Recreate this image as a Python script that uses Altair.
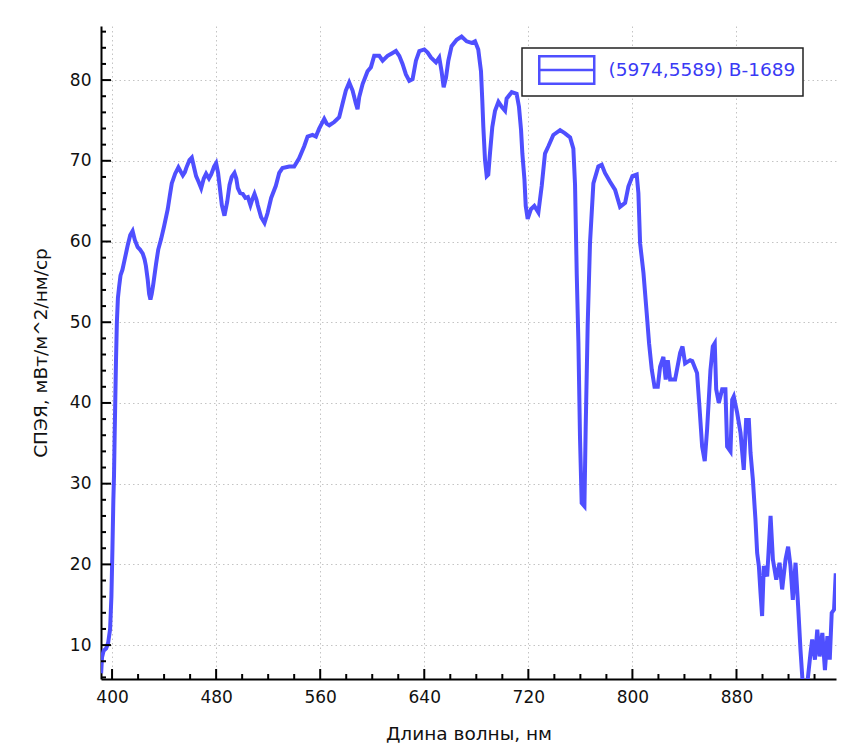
import altair as alt
import pandas as pd

# ---- data ----
wavelength = [391.6, 392.3, 393.5, 395.5, 397, 398.5, 399.5, 400.3, 401, 401.5, 402, 402.5, 403, 403.7, 404.5,
              405.5, 406.5, 408, 410, 412, 414, 415.8, 417.5, 419.7, 421.5, 423.6, 425, 426, 427.4, 428.5,
              429.5, 430.5, 431.5, 433.8, 435.5, 437.7, 440, 442.8, 444.5, 445.9, 448.5, 451, 453, 454.4,
              456, 457, 459.5, 461.3, 463, 464.6, 466.5, 468.5, 470.5, 472.3, 474.5, 476.2, 478.5, 480,
              481.5, 482.6, 484.4, 486.4, 488.5, 490.3, 492, 494.1, 495.5, 496.7, 498.5, 500.5, 502.5,
              504.4, 506.4, 508, 509.5, 511, 512, 514.6, 517.2, 519.5, 522.3, 525.9, 528.5, 531, 536.2,
              540, 543.8, 547.7, 550.3, 554.1, 556.7, 559.2, 563.1, 565, 567, 570.8, 574.6, 577.2, 579.7,
              582.3, 584.9, 587.4, 588.7, 590, 592.6, 596.4, 599, 601.5, 605.4, 608, 611.8, 615, 618.2,
              620.8, 623.3, 625.9, 628.5, 631, 633.6, 636.2, 640, 642.6, 645.1, 649, 651.5, 653.3, 654.9,
              656.7, 658.5, 661, 664.9, 668.7, 672.6, 676.4, 679, 681.5, 683.6, 684.6, 685.4, 686.7, 688,
              689.2, 690.5, 692.3, 694.4, 697, 699.5, 702.1, 703.3, 707.2, 711, 712.8, 714.4, 715.4, 717,
              718, 719.5, 722, 724.6, 727.7, 730.3, 732.8, 735.4, 739.2, 744.4, 748.2, 752.1, 754.6, 755.9,
              757.2, 758.5, 759.7, 761, 763.1, 764.1, 765.6, 767.4, 770, 773.8, 776.4, 778.9, 782.8, 786.7,
              790.5, 794.4, 796.9, 800, 803.3, 804.6, 805.9, 808.5, 811, 812.8, 814.9, 817, 819.5, 821.3,
              823.8, 825.6, 827.2, 829, 832.8, 836.7, 838.5, 840.5, 844.4, 846, 849.7, 851.5, 853.6, 855.6,
              857.4, 860, 861.8, 863.3, 864.4, 866.4, 869, 871.5, 872.8, 875.4, 876.7, 877.9, 880.5, 883.1,
              885.6, 887.4, 889.5, 890.8, 892.6, 894.6, 895.9, 897.2, 898.5, 899.7, 901, 903.6, 906.2, 908,
              910.6, 913.1, 915.1, 917.7, 919.7, 921.5, 923.3, 925.4, 927.4, 929.2, 931, 934.4, 936.9,
              938.2, 940.3, 942.1, 943.9, 946, 948, 949.9, 951.7, 953.2, 955, 956.3]
radiance = [6.5, 8.5, 9.3, 9.6, 10.3, 12, 16, 22, 28, 31, 36, 40.5, 45, 50, 53,
            54.5, 55.8, 56.5, 58, 59.5, 60.8, 61.3, 60.2, 59.3, 59, 58.5, 57.8, 57, 55.3, 53.5,
            52.8, 53.5, 54.5, 57.2, 59, 60.3, 61.9, 64, 65.8, 67.2, 68.4, 69.2, 68.6, 68.2,
            68.6, 69.1, 70.1, 70.4, 69.2, 68.1, 67.4, 66.6, 67.8, 68.4, 67.8, 68.3, 69.3, 69.7,
            68.5, 67, 64.5, 63.2, 64.9, 67, 68, 68.5, 67.8, 66.6, 66, 65.9, 65.4,
            65.5, 64.5, 65.3, 65.9, 65.2, 64.5, 63, 62.3, 63.5, 65.4, 66.9, 68.5, 69.1, 69.3,
            69.3, 70.3, 71.8, 73, 73.2, 73, 74, 75.2, 74.6, 74.4, 74.8, 75.4, 77.1, 78.7,
            79.7, 78.7, 77.1, 76.4, 77.9, 79.5, 81.1, 81.6, 83, 83, 82.4, 83, 83.3, 83.6,
            83, 82, 80.7, 79.9, 80.1, 82.4, 83.6, 83.8, 83.4, 82.8, 82.2, 82.8, 81.1, 79.1,
            80.3, 82.4, 84.2, 85, 85.4, 84.8, 84.6, 84.8, 83.8, 81.1, 77.5, 74.2, 70.1, 68.1,
            68.3, 70.9, 74.2, 76.2, 77.3, 76.7, 76.2, 77.7, 78.5, 78.3, 76.7, 73.8, 70.9, 67.7,
            64.4, 62.8, 64, 64.4, 63.6, 66.9, 70.9, 71.8, 73.2, 73.8, 73.4, 72.9, 71.5, 67,
            56, 47.4, 35.8, 27.6, 27.2, 37.1, 49.5, 59.8, 67.2, 69.3, 69.5, 68.5, 67.4, 66.4,
            64.3, 64.8, 66.8, 68.1, 68.3, 66, 59.8, 56.1, 51.1, 47.4, 44.1, 42, 42, 44.5,
            45.7, 42.9, 45.3, 42.9, 42.9, 46.2, 47, 44.9, 45.3, 45.2, 43.7, 39.6, 34.6, 32.8,
            36.7, 44.1, 47, 47.4, 41.7, 40, 41.7, 41.7, 34.6, 34, 40.4, 40.8, 38.8, 36.3,
            31.7, 37.9, 37.9, 33.8, 30.5, 25.5, 21.4, 19.8, 16.4, 13.6, 19.8, 18.5, 26, 20.6,
            18.1, 20.2, 16.9, 20.6, 22.2, 19.8, 15.6, 20.2, 14.8, 9.4, 5.0, 5.2, 9,
            10.7, 8.2, 11.9, 8.6, 11.5, 6.9, 11.1, 8.2, 14, 14.4, 18.9]
series_name = "(5974,5589) В-1689"

x_major = [400, 480, 560, 640, 720, 800, 880]
x_minor = [420, 440, 460, 500, 520, 540, 580, 600, 620, 660, 680, 700, 740, 760, 780,
           820, 840, 860, 900, 920, 940]
y_major = [10, 20, 30, 40, 50, 60, 70, 80]
y_minor = [6, 8, 12, 14, 16, 18, 22, 24, 26, 28, 32, 34, 36, 38, 42, 44, 46, 48, 52, 54, 56, 58,
           62, 64, 66, 68, 72, 74, 76, 78, 82, 84, 86]

x_domain = [391.5, 956.5]
y_domain = [5.8, 86.7]

W, H = 735, 653
FONT = "DejaVu Sans"
GRID_DASH = [1.5, 3]
GRID_COLOR = "#c4c4c4"

df = pd.DataFrame({"wl": wavelength, "val": radiance, "series": series_name})

xs = alt.Scale(domain=x_domain, nice=False, zero=False)
ys = alt.Scale(domain=y_domain, nice=False, zero=False)

x_axis = alt.Axis(
    values=x_major, title="Длина волны, нм", grid=True, gridDash=GRID_DASH, gridColor=GRID_COLOR,
    gridWidth=1, ticks=False, domain=True, domainColor="#000", domainWidth=2,
    labelFont=FONT, labelFontSize=17, labelColor="#111", labelPadding=10,
    titleFont=FONT, titleFontSize=18.5, titleFontWeight="normal", titleColor="#111",
    titleX=W / 2, titleY=54, titleBaseline="middle", titleAlign="center")
y_axis = alt.Axis(
    values=y_major, title="СПЭЯ, мВт/м^2/нм/ср", grid=True, gridDash=GRID_DASH, gridColor=GRID_COLOR,
    gridWidth=1, ticks=False, domain=True, domainColor="#000", domainWidth=2,
    labelFont=FONT, labelFontSize=17, labelColor="#111", labelPadding=10,
    titleFont=FONT, titleFontSize=18.5, titleFontWeight="normal", titleColor="#111",
    titleX=-61, titleY=H / 2, titleAngle=270, titleBaseline="middle", titleAlign="center")

line = alt.Chart(df).mark_line(strokeWidth=4, clip=True, interpolate="linear").encode(
    x=alt.X("wl:Q", scale=xs, axis=x_axis),
    y=alt.Y("val:Q", scale=ys, axis=y_axis),
    color=alt.Color("series:N", scale=alt.Scale(range=["#4f4fff"]), legend=alt.Legend(
        title=None, orient="none", legendX=421, legendY=22,
        fillColor="white", strokeColor="#222", padding=7,
        symbolType="M-1,-1H3V1H-1Z M-1,0H3", symbolSize=756, symbolStrokeWidth=2.5,
        symbolStrokeColor="#1d1dff", symbolOffset=9, labelOffset=40.5, labelLimit=400,
        labelFont=FONT, labelFontSize=18.5, labelColor="#3a3af5")),
)

def ticks_y(vals, length):
    d = pd.DataFrame({"v": vals})
    return alt.Chart(d).mark_rule(color="#000", strokeWidth=2).encode(
        y=alt.Y("v:Q", scale=ys, axis=y_axis), x=alt.value(0), x2=alt.value(length))

def ticks_x(vals, length):
    d = pd.DataFrame({"v": vals})
    return alt.Chart(d).mark_rule(color="#000", strokeWidth=2).encode(
        x=alt.X("v:Q", scale=xs, axis=x_axis), y=alt.value(H), y2=alt.value(H - length))

chart = alt.layer(
    line, ticks_y(y_major, 10), ticks_y(y_minor, 5), ticks_x(x_major, 10), ticks_x(x_minor, 5)
).properties(
    width=W, height=H, autosize=alt.AutoSizeParams(type="none"),
    padding={"left": 101, "top": 26, "right": 8, "bottom": 66},
    background="white"
).configure_view(stroke=None).configure_legend(strokeWidth=1.5, cornerRadius=0)

chart.save("out.html", embed_options={"renderer": "svg", "actions": False})
